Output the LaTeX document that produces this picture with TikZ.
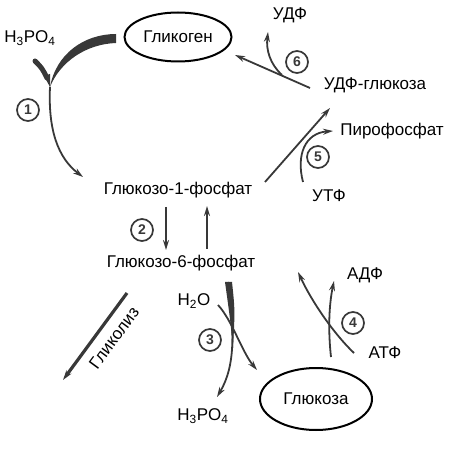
\documentclass[tikz,border=0pt]{standalone}
\usepackage{fontspec}
\setmainfont{Liberation Sans}
\usetikzlibrary{shapes.geometric, arrows.meta, positioning}
\definecolor{linegray}{HTML}{383838}

\begin{document}
\begin{tikzpicture}[
    x=1pt, y=-1pt,
    line/.style={draw=linegray, line width=1.8pt},
    flow/.style={line, -{Stealth[length=10pt,width=6pt]}},
    compound/.style={font=\fontsize{17}{20}\selectfont, inner sep=1pt},
    pool/.style={ellipse, draw=black, line width=2pt, inner sep=0pt},
    enzyme/.style={circle, draw=linegray, line width=1.7pt, minimum size=22pt, inner sep=0pt, font=\fontsize{14}{16}\selectfont\bfseries, text=linegray}
]
\useasboundingbox (0,0) rectangle (458,449);

% Compounds
\node[pool, compound, minimum width=107pt, minimum height=49pt] (glycogen) at (178,37) {Гликоген};
\node[pool, compound, minimum width=112pt, minimum height=62pt] (glucose) at (316,399) {Глюкоза};
\node[compound] (pitop) at (30,38) {H\textsubscript{3}PO\textsubscript{4}};
\node[compound] (udp) at (290,15) {УДФ};
\node[compound] (udpglc) at (375,85) {УДФ-глюкоза};
\node[compound] (ppi) at (392,131) {Пирофосфат};
\node[compound] (utp) at (329,196) {УТФ};
\node[compound] (g1p) at (178,190) {Глюкозо-1-фосфат};
\node[compound] (g6p) at (181,263) {Глюкозо-6-фосфат};
\node[compound] (water) at (194,301) {H\textsubscript{2}O};
\node[compound] (pibot) at (203,416) {H\textsubscript{3}PO\textsubscript{4}};
\node[compound] (adp) at (365,275) {АДФ};
\node[compound] (atp) at (385,353) {АТФ};
\node[compound, rotate=53.6] (glyc) at (114,338) {Гликолиз};

% Enzymes
\node[enzyme] (e1) at (28,110) {1};
\node[enzyme] (e2) at (142,230) {2};
\node[enzyme] (e3) at (210,340) {3};
\node[enzyme] (e4) at (353,323) {4};
\node[enzyme] (e5) at (318,157) {5};
\node[enzyme] (e6) at (297,62) {6};

% Free ends of the connectors
\coordinate (j1) at (50,87);
\coordinate (g1pin) at (83,177);
\coordinate (g1pdown) at (166,207);
\coordinate (g6pin) at (166,250);
\coordinate (g6pup) at (207,249);
\coordinate (g1pup) at (207,206);
\coordinate (glycstart) at (127,293);
\coordinate (glycend) at (63,380);
\coordinate (g6pdown) at (228,282);
\coordinate (piout) at (217,397);
\coordinate (waterin) at (218,305);
\coordinate (glcin) at (257,370);
\coordinate (glcout) at (331,357);
\coordinate (adpout) at (334,281);
\coordinate (atpin) at (354,353);
\coordinate (g6pfrom) at (298,272);
\coordinate (g1pout) at (265,182);
\coordinate (udpglcin) at (330,108);
\coordinate (utpin) at (303,182);
\coordinate (ppiout) at (333,131);
\coordinate (udpglcout) at (310,88);
\coordinate (glycogenin) at (235,55);
\coordinate (udpfrom) at (282,75);
\coordinate (udpout) at (268,32);

% Reaction 1
\fill[linegray] (116,34) .. controls (84,34) and (56,54) .. (j1)
    .. controls (60,62) and (86,44) .. (116,43) -- cycle;
\draw[linegray, line width=5pt, line cap=round] (35,61) .. controls (42,68) .. (47,78);
\fill[linegray] (44,76) -- (50,74) -- (j1) -- cycle;
\draw[flow] (j1) .. controls (48,130) and (58,158) .. (g1pin);

% Reaction 2
\draw[flow, line width=2.4pt] (g1pdown) -- (g6pin);
\draw[flow, line width=1.6pt] (g6pup) -- (g1pup);

% Glycolysis
\draw[flow, line width=3.2pt] (glycstart) -- (glycend);

% Reaction 3
\fill[linegray] (225,282) -- (232,282) .. controls (235,310) .. (233,348)
    .. controls (230,318) .. (225,282) -- cycle;
\draw[flow] (g6pdown) .. controls (234,330) and (236,365) .. (piout);
\draw[flow] (waterin) .. controls (232,320) and (242,352) .. (glcin);

% Reaction 4
\draw[flow] (glcout) .. controls (328,330) and (329,305) .. (adpout);
\draw[flow] (atpin) .. controls (334,334) and (312,302) .. (g6pfrom);

% Reaction 5
\draw[flow] (g1pout) -- (udpglcin);
\draw[flow] (utpin) .. controls (296,155) and (305,133) .. (ppiout);

% Reaction 6
\draw[flow] (udpglcout) -- (glycogenin);
\draw[flow] (udpfrom) .. controls (270,64) and (266,50) .. (udpout);

\end{tikzpicture}
\end{document}
